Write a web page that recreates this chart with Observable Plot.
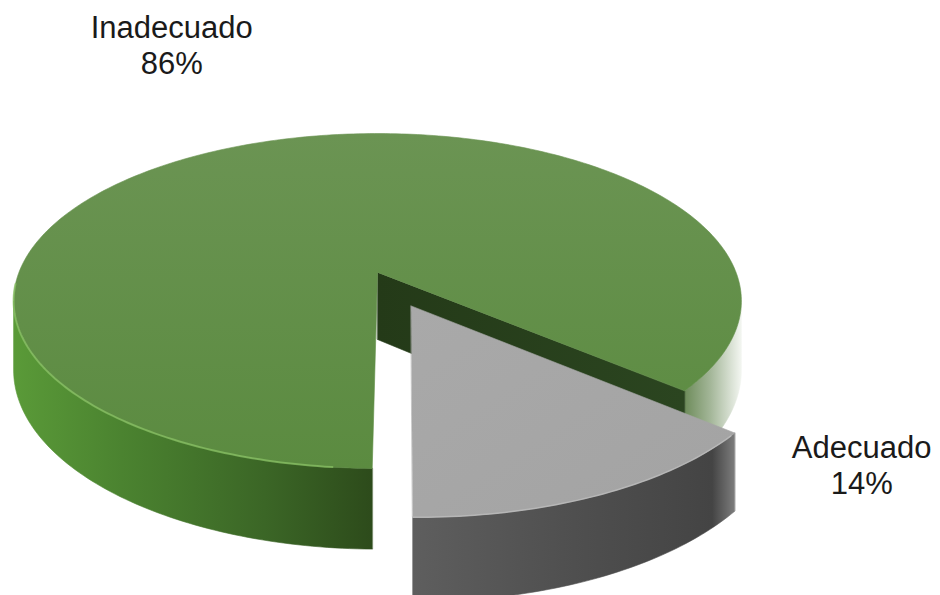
<!DOCTYPE html>
<html>
<head>
<meta charset="utf-8">
<script src="https://cdn.jsdelivr.net/npm/d3@7"></script>
<script src="https://cdn.jsdelivr.net/npm/@observablehq/plot@0.6"></script>
<style>
  html, body { margin: 0; padding: 0; background: #ffffff; }
</style>
</head>
<body>
<div id="chart"></div>
<script>
// Slices, in drawing order (clockwise from the start angle)
const categories = ["Inadecuado", "Adecuado"];
const shares = [86, 14];
const percentLabels = ["86%", "14%"];
const exploded = [false, true];

// Tilted-disk view
const startDeg = 90.7;     // first slice starts here, clockwise from 3 o'clock
const persp = 0.17;        // perspective: the near rim is drawn larger
const depth = 0.412;       // side thickness, in vertical-radius units
const explodeBy = 0.218;   // pull-out of the detached slice, in radii
const rad = Math.PI / 180;

function proj(u, v, z = 0) {
  const p = 1 / (1 - persp * v);
  return {x: u * p, y: (v + z * depth) * p};
}

const total = d3.sum(shares);
let acc = startDeg;
const slices = categories.map((name, i) => {
  const a0 = acc, a1 = acc + shares[i] / total * 360;
  acc = a1;
  const mid = (a0 + a1) / 2;
  const off = exploded[i] ? explodeBy : 0;
  return {name, i, a0, a1, mid, ox: off * Math.cos(mid * rad), oy: off * Math.sin(mid * rad)};
});

function rimPoint(s, deg, z = 0) {
  const t = deg * rad;
  return proj(s.ox + Math.cos(t), s.oy + Math.sin(t), z);
}
function arc(s, d0, d1, z = 0) {
  const n = Math.max(2, Math.ceil(Math.abs(d1 - d0)));
  return d3.range(n + 1).map(j => rimPoint(s, d0 + (d1 - d0) * j / n, z));
}
const topFace = s => [proj(s.ox, s.oy), ...arc(s, s.a0, s.a1)];
const sideFace = (s, d0, d1) => [...arc(s, d0, d1, 0), ...arc(s, d1, d0, 1)];
const wallFace = (s, deg) => [proj(s.ox, s.oy, 0), rimPoint(s, deg, 0), rimPoint(s, deg, 1), proj(s.ox, s.oy, 1)];

// the outer side is seen only where the rim turns toward the viewer
const vis0 = Math.asin(persp) / rad, vis1 = 180 - vis0;
function visibleRanges(s) {
  const out = [];
  for (const shift of [0, 360, -360]) {
    const lo = Math.max(s.a0, vis0 + shift), hi = Math.min(s.a1, vis1 + shift);
    if (hi > lo) out.push([lo, hi]);
  }
  return out;
}

// gradients used by the faces
function gradients() {
  const defs = d3.create("svg:defs");
  const lin = (id, x2, y2, stops) => {
    const g = defs.append("linearGradient").attr("id", id)
      .attr("x1", 0).attr("y1", 0).attr("x2", x2).attr("y2", y2);
    for (const [o, c] of stops) g.append("stop").attr("offset", o).attr("stop-color", c);
  };
  lin("gTop", 0, 1, [[0, "#6b9453"], [1, "#5b8b40"]]);
  lin("gFront", 1, 0, [[0, "#5a9a38"], [0.3, "#4b8330"], [0.7, "#3b6626"], [1, "#2d4b1b"]]);
  lin("gBack", 1, 0, [[0, "#6e8c5b"], [0.45, "#a3b698"], [1, "#f3f6f1"]]);
  lin("gWall", 1, 0, [[0, "#243a18"], [1, "#2b4520"]]);
  lin("gGrayTop", 1, 1, [[0, "#a9a9a9"], [1, "#a3a3a3"]]);
  lin("gGraySide", 1, 0, [[0, "#5e5e5e"], [0.5, "#4f4f4f"], [0.93, "#444444"], [1, "#7d7d7d"]]);
  return defs.node();
}

const poly = (pts, fill) =>
  Plot.line(pts, {x: "x", y: "y", curve: "linear-closed", fill, stroke: fill, strokeWidth: 0.6});

const [green, gray] = slices;
const marks = [gradients];

// green: sides, the cut wall facing the gap, then the top
for (const [lo, hi] of visibleRanges(green)) {
  const m = ((lo + hi) / 2 % 360 + 360) % 360;
  marks.push(poly(sideFace(green, lo, hi), m > 90 ? "url(#gFront)" : "url(#gBack)"));
}
marks.push(poly(wallFace(green, green.a1), "url(#gWall)"));
marks.push(poly(topFace(green), "url(#gTop)"));
marks.push(Plot.line(arc(green, 96, 176), {x: "x", y: "y", stroke: "#8cc466", strokeWidth: 2, strokeOpacity: 0.7}));

// gray: pulled-out slice in front
for (const [lo, hi] of visibleRanges(gray)) marks.push(poly(sideFace(gray, lo, hi), "url(#gGraySide)"));
marks.push(poly(topFace(gray), "url(#gGrayTop)"));
marks.push(Plot.line(arc(gray, gray.a0 + 1, gray.a1), {x: "x", y: "y", stroke: "#bdbdbd", strokeWidth: 1.5, strokeOpacity: 0.8}));

// labels, anchored at each slice's rim mid-point
const labelRows = slices.map(s => ({...rimPoint(s, s.mid), i: s.i, text: `${s.name}\n${percentLabels[s.i]}`}));
const labelStyle = {x: "x", y: "y", text: "text", fontSize: 31, lineHeight: 1.17, fill: "#1a1a1a", textAnchor: "middle"};
marks.push(Plot.text(labelRows.filter(d => d.i === 0), {...labelStyle, dx: -77, dy: -100}));
marks.push(Plot.text(labelRows.filter(d => d.i === 1), {...labelStyle, dx: 261, dy: -30}));

const chart = Plot.plot({
  width: 940,
  height: 595,
  margin: 0,
  axis: null,
  x: {domain: [-1, 1], range: [18.4, 735.6]},
  y: {domain: [-1, 1], range: [109.4, 434.6]},
  style: {background: "#ffffff", fontFamily: "'Liberation Sans', Arial, sans-serif"},
  marks
});
document.getElementById("chart").append(chart);
</script>
</body>
</html>
